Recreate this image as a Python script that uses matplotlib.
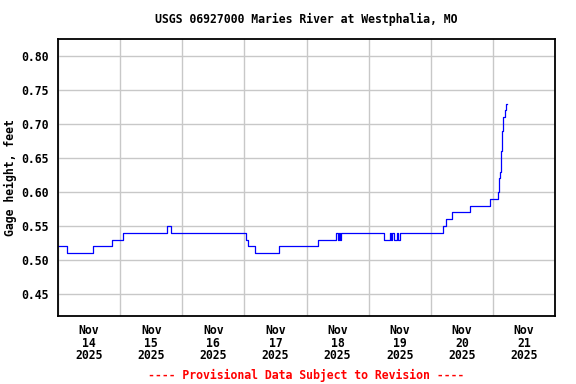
import numpy as np
import pandas as pd
import matplotlib
matplotlib.use("Agg")
import matplotlib.pyplot as plt
import matplotlib.dates as mdates

# gage height change points (hours after Nov 14 00:00, feet)
change_hours = [0.0, 3.5, 13.5, 21.0, 25.0, 42.0, 43.5, 72.5, 73.5, 76.0, 85.5,
                100.25, 107.5, 108.0, 108.5, 109.0, 109.25, 126.0, 128.25,
                128.5, 129.0, 129.75, 131.0, 131.5, 132.0, 132.5, 148.75,
                149.75, 152.25, 159.25, 166.75, 170.0, 170.25, 170.5, 170.75,
                171.0, 171.25, 171.5, 171.75, 172.0, 172.5, 173.0, 173.5]
change_values = [0.52, 0.51, 0.52, 0.53, 0.54, 0.55, 0.54, 0.53, 0.52, 0.51, 0.52,
                 0.53, 0.54, 0.53, 0.54, 0.53, 0.54, 0.53, 0.54,
                 0.53, 0.54, 0.53, 0.54, 0.53, 0.54, 0.54, 0.55,
                 0.56, 0.57, 0.58, 0.59, 0.60, 0.61, 0.62, 0.63,
                 0.64, 0.66, 0.69, 0.70, 0.71, 0.72, 0.73, 0.73]

yticks = [0.45, 0.50, 0.55, 0.60, 0.65, 0.70, 0.75, 0.80]
start = pd.Timestamp("2025-11-14 00:00")
end = pd.Timestamp("2025-11-22 00:00")

times = [start + pd.Timedelta(hours=h) for h in change_hours]

mono = "DejaVu Sans Mono"
fs = 8.3

fig = plt.figure(figsize=(5.76, 3.84), dpi=100)
ax = fig.add_axes([58 / 576, 1 - 316 / 384, 497 / 576, 277 / 384])

ax.plot(times, change_values, color="#0000ff", lw=0.9, drawstyle="steps-post")

ax.set_xlim(start, end)
ax.set_ylim(0.4175, 0.825)
ax.set_yticks(yticks)
ax.set_yticklabels([f"{v:.2f}" for v in yticks], fontfamily=mono,
                   fontweight="bold", fontsize=fs)

# labels at noon, grid at midnight
ax.xaxis.set_major_locator(mdates.HourLocator(byhour=[12]))
ax.xaxis.set_major_formatter(mdates.DateFormatter("%b\n%d\n%Y"))
ax.xaxis.set_minor_locator(mdates.DayLocator())
for lab in ax.get_xticklabels():
    lab.set_fontfamily(mono)
    lab.set_fontweight("bold")
    lab.set_fontsize(fs)
    lab.set_linespacing(0.95)

ax.tick_params(axis="both", which="both", length=0)
ax.tick_params(axis="x", pad=6)
ax.tick_params(axis="y", pad=7)
ax.grid(False, axis="x", which="major")
ax.grid(True, axis="x", which="minor", color="#c8c8c8", lw=1)
ax.grid(True, axis="y", which="major", color="#c8c8c8", lw=1)
ax.set_axisbelow(True)
for s in ax.spines.values():
    s.set_linewidth(1.3)
    s.set_color("black")

ax.set_ylabel("Gage height, feet", fontfamily=mono, fontweight="bold",
              fontsize=fs, labelpad=3)

cx = (58 + 555) / 2 / 576
fig.text(cx, 1 - 19 / 384, "USGS 06927000 Maries River at Westphalia, MO",
         ha="center", va="center", fontfamily=mono, fontweight="bold", fontsize=fs)
fig.text(cx, 1 - 375 / 384, "---- Provisional Data Subject to Revision ----",
         ha="center", va="center", color="red", fontfamily=mono,
         fontweight="bold", fontsize=fs)

fig.savefig("out.png", dpi=100)
